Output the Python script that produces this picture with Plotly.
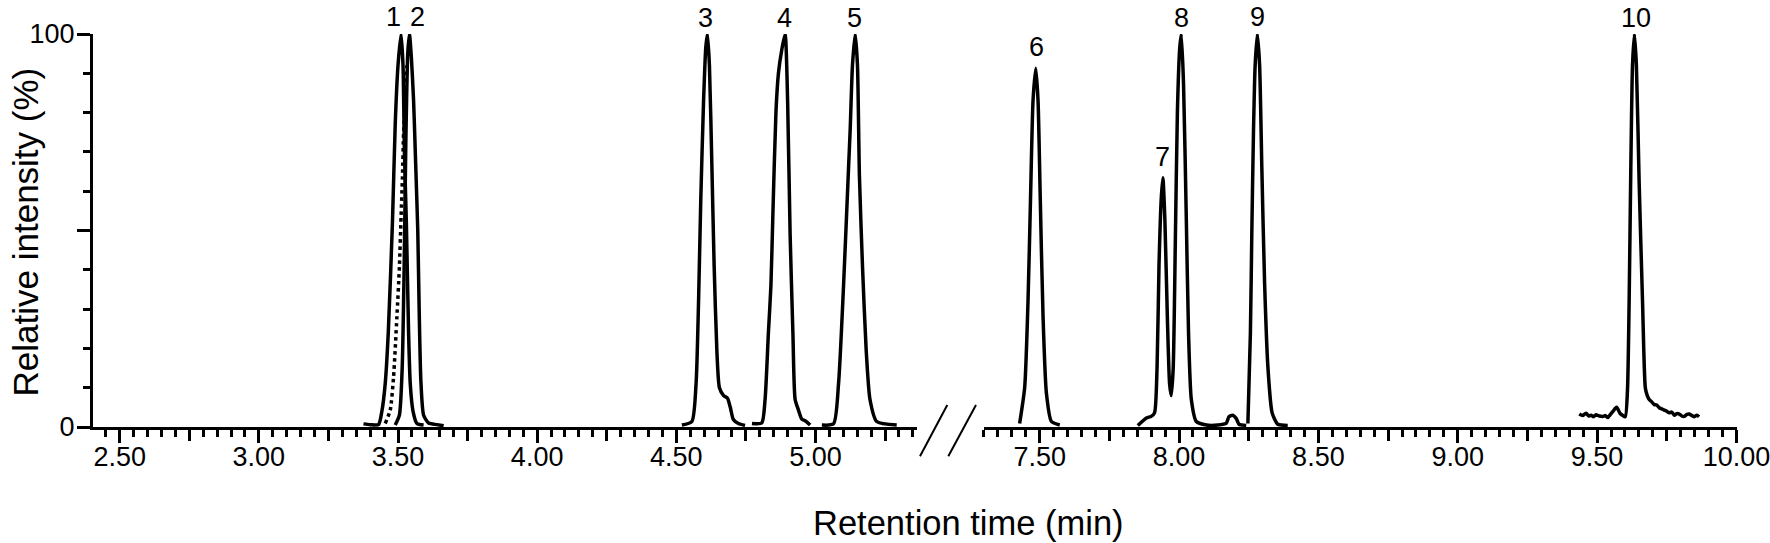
import plotly.graph_objects as go

# retention time (min) / relative intensity (%)
p1_t = [3.376, 3.40, 3.430, 3.442, 3.454, 3.465, 3.480, 3.490, 3.500, 3.511, 3.518, 3.523, 3.530, 3.538, 3.544, 3.554, 3.568, 3.592]
p1_y = [0.8, 0.6, 0.6, 4, 11, 24, 52, 77, 92, 100, 92, 70, 52, 24, 11, 4, 0.9, 0.5]

p1_dot_t = [3.454, 3.472, 3.484, 3.496, 3.505, 3.511, 3.516, 3.520, 3.526, 3.532]
p1_dot_y = [0.9, 4.3, 12.7, 28, 40.7, 53.5, 63.7, 74.7, 83, 92]

p2_t = [3.490, 3.505, 3.515, 3.522, 3.528, 3.535, 3.541, 3.548, 3.556, 3.563, 3.571, 3.576, 3.582, 3.592, 3.610, 3.640, 3.664]
p2_y = [0.5, 3, 15, 40, 72, 95, 100, 94, 83, 68, 50, 30, 12, 3, 1.0, 0.6, 0.3]

p3_t = [4.520, 4.556, 4.571, 4.580, 4.588, 4.598, 4.606, 4.612, 4.619, 4.628, 4.636, 4.646, 4.655, 4.670, 4.684, 4.694, 4.705, 4.723, 4.747]
p3_y = [0.5, 1.4, 11, 32, 58, 83, 96.6, 100, 92, 66, 41, 19, 10, 8, 7.3, 5, 1.9, 0.9, 0.4]

p4_t = [4.772, 4.807, 4.819, 4.831, 4.840, 4.847, 4.858, 4.867, 4.879, 4.891, 4.900, 4.909, 4.919, 4.927, 4.939, 4.951, 4.963, 4.981]
p4_y = [0.9, 1.0, 7, 24, 36, 54, 80, 90, 96, 100, 83, 49, 24, 7, 4.3, 2, 1.6, 0.5]

p5_t = [5.023, 5.065, 5.083, 5.101, 5.119, 5.125, 5.133, 5.143, 5.151, 5.158, 5.169, 5.182, 5.196, 5.220, 5.292]
p5_y = [0.5, 0.8, 11, 36, 66, 76, 92, 100, 92, 64, 41, 20, 7, 1.4, 0.5]

p6_t = [7.428, 7.446, 7.458, 7.467, 7.476, 7.486, 7.494, 7.502, 7.512, 7.524, 7.542, 7.572]
p6_y = [0.9, 10, 32, 58, 83, 91.3, 83, 58, 28, 8.6, 1.4, 0.5]

p78_t = [7.852, 7.883, 7.900, 7.912, 7.921, 7.928, 7.936, 7.942, 7.949, 7.958, 7.966, 7.972, 7.979, 7.987, 7.994, 8.002, 8.008,
         8.016, 8.026, 8.034, 8.044, 8.062, 8.098, 8.140, 8.169, 8.179, 8.193, 8.205, 8.215, 8.241]
p78_y = [0.4, 2.3, 2.7, 3.6, 15, 41, 58, 63.4, 53, 28, 11, 8, 15, 49, 80, 96, 100,
         87.5, 53, 24, 7, 1.4, 0.5, 0.5, 0.9, 2.6, 3, 2.2, 0.7, 0.4]

p9_t = [8.247, 8.256, 8.261, 8.267, 8.273, 8.281, 8.289, 8.297, 8.307, 8.319, 8.334, 8.354, 8.390]
p9_y = [0.9, 24, 49, 75, 92, 100, 92, 66, 36.5, 15, 3.6, 0.7, 0.4]

p10_t = [9.436, 9.448, 9.460, 9.470, 9.478, 9.487, 9.496, 9.508, 9.520, 9.530, 9.538, 9.548, 9.556, 9.570, 9.582, 9.591,
         9.601, 9.609, 9.615, 9.621, 9.627, 9.634, 9.641, 9.651, 9.663, 9.673, 9.680, 9.687, 9.696, 9.705, 9.714, 9.723,
         9.732, 9.741, 9.750, 9.759, 9.768, 9.777, 9.786, 9.795, 9.804, 9.813, 9.822, 9.831, 9.840, 9.849, 9.858, 9.866]
p10_y = [3.3, 2.9, 3.5, 2.8, 3.0, 2.6, 3.1, 2.8, 2.7, 2.9, 2.4, 3.2, 3.9, 5.0, 3.5, 3.0,
         2.6, 9.4, 32, 66, 92, 100, 92, 62, 32, 10, 8, 7, 6.4, 5.7, 5.6, 4.9,
         4.6, 4.3, 4.0, 3.6, 3.8, 3.0, 3.4, 3.3, 2.8, 2.7, 3.2, 3.3, 2.9, 2.6, 3.0, 2.6]

left_peaks = [(p1_t, p1_y), (p2_t, p2_y), (p3_t, p3_y), (p4_t, p4_y), (p5_t, p5_y)]
right_peaks = [(p6_t, p6_y), (p78_t, p78_y), (p9_t, p9_y), (p10_t, p10_y)]

peak_names = ["1", "2", "3", "4", "5", "6", "7", "8", "9", "10"]
label_t = [3.482, 3.571, 4.606, 4.888, 5.140, 7.490, 7.942, 8.008, 8.283, 9.640]
label_y = [104.4, 104.4, 104.0, 104.0, 104.0, 96.8, 68.8, 104.0, 104.4, 104.0]
label_axis = ["x", "x", "x", "x", "x", "x2", "x2", "x2", "x2", "x2"]

left_range = [2.404, 5.366]
right_range = [7.30, 10.002]

FONT = "Liberation Sans, Arial, sans-serif"
LW = 3.5

fig = go.Figure()
for t, y in left_peaks:
    fig.add_trace(go.Scatter(x=t, y=y, mode="lines",
                             line=dict(color="black", width=LW, shape="spline", smoothing=0.6),
                             xaxis="x", yaxis="y"))
fig.add_trace(go.Scatter(x=p1_dot_t, y=p1_dot_y, mode="lines",
                         line=dict(color="black", width=LW, dash="dot", shape="spline", smoothing=0.6),
                         xaxis="x", yaxis="y"))
for t, y in right_peaks:
    fig.add_trace(go.Scatter(x=t, y=y, mode="lines",
                             line=dict(color="black", width=LW, shape="spline", smoothing=0.6),
                             xaxis="x2", yaxis="y"))


def tick_setup(lo, hi, step_idx):
    # step_idx 0 -> labelled ticks every 0.5, 1 -> unlabelled ticks on the odd quarters
    vals = []
    k = int(round(lo * 4))
    while k / 4 <= hi + 1e-9:
        if k / 4 >= lo - 1e-9 and k % 2 == step_idx:
            vals.append(k / 4)
        k += 1
    return vals


TICKFONT = dict(family=FONT, size=27, color="black")
xcommon = dict(showline=True, linewidth=3, linecolor="black", ticks="outside", ticklen=13, tickwidth=3,
               tickcolor="black", showgrid=False, zeroline=False, tickfont=TICKFONT, tickformat=".2f",
               ticklabeloverflow="allow", ticklabelstandoff=-9, automargin=False,
               minor=dict(ticks="outside", dtick=0.05, tick0=0, ticklen=7, tickwidth=3, tickcolor="black",
                          showgrid=False))
xquarter = dict(showline=False, ticks="outside", ticklen=13, tickwidth=3, tickcolor="black", showgrid=False,
                zeroline=False, showticklabels=False, anchor="y", automargin=False)

L, R, T, B = 92.7, 32.7, 34, 116.3
W, H = 1770, 543
pw = W - L - R
ph = H - T - B


def px_x(p):
    return (p - L) / pw


def px_y(p):
    return (H - B - p) / ph


left_dom = [0, px_x(917.3)]
right_dom = [px_x(984), 1]

fig.update_layout(
    width=W, height=H,
    margin=dict(l=L, r=R, t=T, b=B, pad=0, autoexpand=False),
    plot_bgcolor="white", paper_bgcolor="white",
    showlegend=False,
    xaxis=dict(xcommon, domain=left_dom, range=left_range, tickvals=tick_setup(*left_range, 0)),
    xaxis2=dict(xcommon, domain=right_dom, range=right_range, tickvals=tick_setup(*right_range, 0), anchor="y"),
    xaxis3=dict(xquarter, domain=left_dom, range=left_range, tickvals=tick_setup(*left_range, 1), overlaying="x"),
    xaxis4=dict(xquarter, domain=right_dom, range=right_range, tickvals=tick_setup(*right_range, 1),
                overlaying="x2"),
    yaxis=dict(range=[0, 100], showline=True, linewidth=3, linecolor="black", ticks="outside", ticklen=13,
               tickwidth=3, tickcolor="black", showgrid=False, zeroline=False, automargin=False,
               tickvals=[0, 50, 100], ticktext=["0", "", "100"], tickfont=TICKFONT, ticklabelstandoff=-3,
               minor=dict(ticks="outside", dtick=10, ticklen=7, tickwidth=3, tickcolor="black", showgrid=False)),
)

# invisible anchors so the quarter-tick axes get drawn
fig.add_trace(go.Scatter(x=[left_range[0]], y=[0], mode="markers", marker=dict(opacity=0), xaxis="x3",
                         yaxis="y", hoverinfo="skip"))
fig.add_trace(go.Scatter(x=[right_range[0]], y=[0], mode="markers", marker=dict(opacity=0), xaxis="x4",
                         yaxis="y", hoverinfo="skip"))

# peak labels (y given in % of the 0-100 axis, placed in paper units so they may sit above 100)
for name, t, y, ax in zip(peak_names, label_t, label_y, label_axis):
    fig.add_annotation(x=t, y=y / 100, xref=ax, yref="paper", text=name, showarrow=False,
                       font=dict(family=FONT, size=27, color="black"), xanchor="center", yanchor="middle")

# axis titles
fig.add_annotation(x=px_x(25), y=px_y(232), xref="paper", yref="paper", text="Relative intensity (%)",
                   textangle=-90, showarrow=False, xanchor="center", yanchor="middle",
                   font=dict(family=FONT, size=35, color="black"))
fig.add_annotation(x=px_x(969), y=px_y(523), xref="paper", yref="paper", text="Retention time (min)",
                   showarrow=False, xanchor="center", yanchor="middle",
                   font=dict(family=FONT, size=34.5, color="black"))

# axis break marks
for x0, x1 in [(920, 947.3), (948.3, 976)]:
    fig.add_shape(type="line", xref="paper", yref="paper", x0=px_x(x0), y0=px_y(456), x1=px_x(x1), y1=px_y(404.7),
                  line=dict(color="black", width=2))

fig.write_html("out.html", config={"displayModeBar": False},
               post_script="document.body.style.margin='0';")
